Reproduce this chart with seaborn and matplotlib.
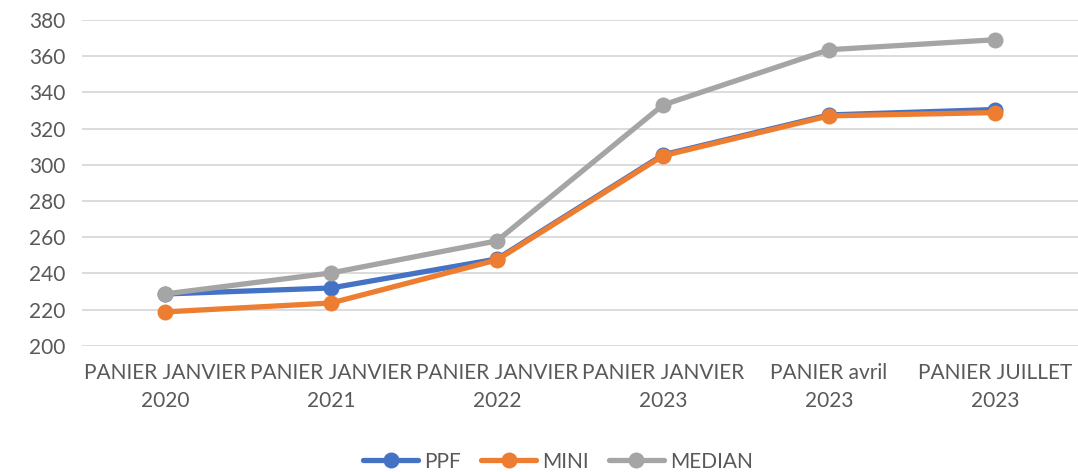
import numpy as np
import pandas as pd
import matplotlib.pyplot as plt
import seaborn as sns

categories = ["PANIER JANVIER\n2020", "PANIER JANVIER\n2021", "PANIER JANVIER\n2022",
              "PANIER JANVIER\n2023", "PANIER avril\n2023", "PANIER JUILLET\n2023"]
ppf = [228.7, 232.0, 248.0, 305.5, 327.5, 330.5]
mini = [218.8, 223.7, 247.5, 305.0, 327.0, 328.8]
median = [228.7, 240.3, 258.0, 333.0, 363.5, 369.0]

series_names = ["PPF", "MINI", "MEDIAN"]
colors = ["#4472C4", "#ED7D31", "#A5A5A5"]

df = pd.DataFrame({
    "x": list(range(len(categories))) * 3,
    "value": ppf + mini + median,
    "serie": [n for n in series_names for _ in categories],
})

sns.set_theme(style="white")
plt.rcParams['font.family'] = ['Lato', 'DejaVu Sans']

fig = plt.figure(figsize=(10.78, 4.72), dpi=100)
ax = fig.add_axes([0.076, 0.267, 0.924, 0.691])

sns.lineplot(data=df, x="x", y="value", hue="serie", hue_order=series_names,
             palette=colors, marker="o", markersize=11.5, markeredgewidth=0,
             linewidth=3.8, ax=ax)

ax.set_xlim(-0.5, len(categories) - 0.5)
ax.set_ylim(200, 380)
ax.set_yticks(np.arange(200, 381, 20))
ax.set_xticks(range(len(categories)))
ax.set_xticklabels(categories, linespacing=1.5)
ax.tick_params(axis="both", colors="#595959", labelsize=15, length=0)
ax.tick_params(axis="x", pad=12)
ax.tick_params(axis="y", pad=12)
ax.grid(axis="y", color="#d9d9d9", linewidth=1.3)
ax.set_axisbelow(True)
for s in ax.spines.values():
    s.set_visible(False)
ax.set_xlabel("")
ax.set_ylabel("")

ax.legend(loc="center", bbox_to_anchor=(0.478, -0.355), ncol=3, frameon=False,
          fontsize=15, labelcolor="#595959", handlelength=2.6,
          columnspacing=1.0, handletextpad=0.3)

plt.savefig("out.png", dpi=100)
